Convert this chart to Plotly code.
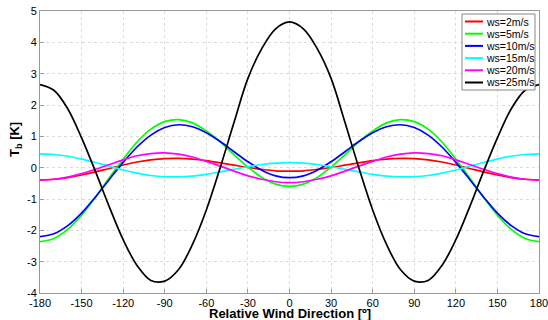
import plotly.graph_objects as go

angles = list(range(-180, 181, 10))

ws2 = [-0.39, -0.37, -0.32, -0.235, -0.135, -0.025, 0.085, 0.18, 0.25, 0.29, 0.295, 0.275, 0.225, 0.155, 0.08, 0.005, -0.055, -0.1,
       -0.11,
       -0.1, -0.055, 0.005, 0.08, 0.155, 0.225, 0.275, 0.295, 0.29, 0.25, 0.18, 0.085, -0.025, -0.135, -0.235, -0.32, -0.37, -0.39]
ws5 = [-2.36, -2.26, -1.97, -1.52, -0.95, -0.32, 0.27, 0.82, 1.23, 1.47, 1.535, 1.43, 1.17, 0.82, 0.41, 0.02, -0.31, -0.525,
       -0.6,
       -0.525, -0.31, 0.02, 0.41, 0.82, 1.17, 1.43, 1.535, 1.47, 1.23, 0.82, 0.27, -0.32, -0.95, -1.52, -1.97, -2.26, -2.36]
ws10 = [-2.2, -2.11, -1.85, -1.45, -0.935, -0.375, 0.17, 0.66, 1.04, 1.28, 1.37, 1.305, 1.115, 0.835, 0.51, 0.19, -0.08, -0.26,
        -0.32,
        -0.26, -0.08, 0.19, 0.51, 0.835, 1.115, 1.305, 1.37, 1.28, 1.04, 0.66, 0.17, -0.375, -0.935, -1.45, -1.85, -2.11, -2.2]
ws15 = [0.44, 0.42, 0.365, 0.275, 0.165, 0.045, -0.075, -0.175, -0.25, -0.29, -0.295, -0.27, -0.215, -0.135, -0.05, 0.03, 0.1, 0.145,
        0.16,
        0.145, 0.1, 0.03, -0.05, -0.135, -0.215, -0.27, -0.295, -0.29, -0.25, -0.175, -0.075, 0.045, 0.165, 0.275, 0.365, 0.42, 0.44]
ws20 = [-0.4, -0.37, -0.3, -0.19, -0.05, 0.1, 0.25, 0.38, 0.45, 0.47, 0.43, 0.34, 0.2, 0.05, -0.11, -0.26, -0.37, -0.45,
        -0.48,
        -0.45, -0.37, -0.26, -0.11, 0.05, 0.2, 0.34, 0.43, 0.47, 0.45, 0.38, 0.25, 0.1, -0.05, -0.19, -0.3, -0.37, -0.4]
ws25 = [2.65, 2.47, 1.88, 0.95, -0.12, -1.25, -2.3, -3.12, -3.6, -3.62, -3.25, -2.45, -1.35, 0.0, 1.45, 2.85, 3.8, 4.43,
        4.65,
        4.43, 3.8, 2.85, 1.45, 0.0, -1.35, -2.45, -3.25, -3.62, -3.6, -3.12, -2.3, -1.25, -0.12, 0.95, 1.88, 2.47, 2.65]

names = ["ws=2m/s", "ws=5m/s", "ws=10m/s", "ws=15m/s", "ws=20m/s", "ws=25m/s"]
colors = ["#ff0000", "#00ff00", "#0000ff", "#00ffff", "#ff00ff", "#000000"]
values = [ws2, ws5, ws10, ws15, ws20, ws25]

xticks = list(range(-180, 181, 30))
yticks = list(range(-4, 6))

FONT = "Liberation Sans, Arial, sans-serif"
W, H = 548, 320
ML, MR, MT, MB = 40, 9, 11, 27
PW, PH = W - ML - MR, H - MT - MB


def px_x(px):
    return (px - ML) / PW


def px_y(py):
    return (H - MB - py) / PH


fig = go.Figure()
for name, vals, col in zip(names, values, colors):
    fig.add_trace(go.Scatter(x=angles, y=vals, mode="lines", name=name, showlegend=False,
                             line=dict(color=col, width=1.7, shape="spline", smoothing=1.0)))

axis_common = dict(showline=True, linecolor="#999999", linewidth=1, mirror=True,
                   ticks="inside", ticklen=4, tickcolor="#999999",
                   showgrid=True, gridcolor="#dcdcdc", griddash="dot", gridwidth=1,
                   zeroline=False, automargin=False, ticklabeloverflow="allow",
                   tickfont=dict(family=FONT, size=11, color="#000"))

# legend box (compact, white, gray border, as in the reference)
shapes = [dict(type="rect", xref="paper", yref="paper", layer="above",
               x0=px_x(462), x1=px_x(535), y0=px_y(90), y1=px_y(14),
               fillcolor="white", line=dict(color="#888888", width=1))]
annotations = []
row_y = [21.5, 33.7, 45.9, 58.1, 70.3, 82.5]
for name, col, ry in zip(names, colors, row_y):
    shapes.append(dict(type="line", xref="paper", yref="paper", layer="above",
                       x0=px_x(465), x1=px_x(483), y0=px_y(ry), y1=px_y(ry),
                       line=dict(color=col, width=2)))
    annotations.append(dict(text=name, xref="paper", yref="paper", x=px_x(484), y=px_y(ry),
                            xanchor="left", yanchor="middle", showarrow=False,
                            font=dict(family=FONT, size=10.5, color="#000")))

annotations.append(dict(text="<b>Relative Wind Direction [º]</b>", x=0.5, y=0,
                        xref="paper", yref="paper", xanchor="center", yanchor="top",
                        yshift=-11, showarrow=False,
                        font=dict(family=FONT, size=13, color="#000")))
annotations.append(dict(text="<b>T<sub>b</sub> [K]</b>", x=px_x(15), y=px_y(140),
                        xref="paper", yref="paper", xanchor="center", yanchor="middle",
                        textangle=-90, showarrow=False,
                        font=dict(family=FONT, size=13, color="#000")))

fig.update_layout(
    width=W, height=H,
    margin=dict(l=ML, r=MR, t=MT, b=MB),
    paper_bgcolor="white", plot_bgcolor="white",
    xaxis=dict(range=[-180, 180], tickvals=xticks, ticktext=[str(t) for t in xticks],
               **axis_common),
    yaxis=dict(range=[-4, 5], tickvals=yticks, ticktext=[str(t) for t in yticks],
               **axis_common),
    shapes=shapes,
    annotations=annotations,
    showlegend=False,
)

fig.write_html("out.html", config={"displayModeBar": False},
               post_script="document.body.style.margin='0';document.body.style.overflow='hidden';")
